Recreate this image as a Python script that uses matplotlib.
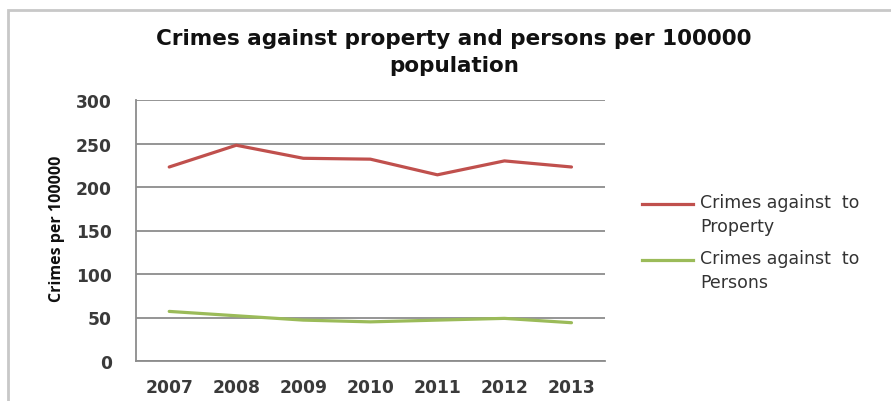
import matplotlib
matplotlib.use("Agg")
import matplotlib.pyplot as plt
from matplotlib.patches import Rectangle
from matplotlib.lines import Line2D

years = ["2007", "2008", "2009", "2010", "2011", "2012", "2013"]
property_crimes = [223, 248, 233, 232, 214, 230, 223]
person_crimes = [57, 52, 47, 45, 47, 49, 44]
yticks = [0, 50, 100, 150, 200, 250, 300]
series_labels = ["Crimes against  to\nProperty", "Crimes against  to\nPersons"]
series_colors = ["#C0504D", "#9BBB59"]

plt.rcParams['font.family'] = ['DejaVu Sans']

fig = plt.figure(figsize=(8.91, 4.02), dpi=100)
W, H = 891, 402
ax = fig.add_axes([135.7 / W, 1 - 362 / H, (605 - 135.7) / W, (362 - 101) / H])

x = list(range(len(years)))
for vals, lab, col in zip([property_crimes, person_crimes], series_labels, series_colors):
    ax.plot(x, vals, color=col, lw=2.3, label=lab, solid_capstyle='round')

ax.set_xlim(-0.5, len(years) - 0.5)
ax.set_ylim(0, 300)
ax.set_yticks(yticks)
ax.set_xticks(x)
ax.set_xticklabels(years)
ax.tick_params(axis='both', length=0, labelsize=12.3, labelcolor='#3a3a3a')
for lab in ax.get_xticklabels() + ax.get_yticklabels():
    lab.set_fontweight('bold')
ax.tick_params(axis='y', pad=17)
ax.tick_params(axis='x', pad=12)
ax.grid(axis='y', color='#8c8c8c', lw=1.3)
ax.set_axisbelow(True)
for s in ['top', 'right']:
    ax.spines[s].set_visible(False)
for s in ['left', 'bottom']:
    ax.spines[s].set_color('#8c8c8c')
    ax.spines[s].set_linewidth(1.3)

fig.text(57 / W, 1 - 229 / H, 'Crimes per 100000', rotation=90, ha='center', va='center',
         fontsize=11.5, fontweight='bold', color='#111111',
         family=['Open Sans', 'DejaVu Sans'])

fig.text(454 / W, 1 - 52.5 / H, 'Crimes against property and persons per 100000\npopulation',
         ha='center', va='center', fontsize=15.5, fontweight='bold', color='#111111',
         linespacing=1.45)

# legend (Excel style: marker aligned with first text line)
leg_y = [205, 261]
for ly, lab, col in zip(leg_y, series_labels, series_colors):
    fig.add_artist(Line2D([642 / W, 693 / W], [1 - ly / H, 1 - ly / H], color=col, lw=2.3,
                          transform=fig.transFigure))
    fig.text(700 / W, 1 - (ly - 10.5) / H, lab, ha='left', va='top', fontsize=12.5,
             color='#333333', linespacing=1.38)

fig.patches.append(Rectangle((8 / W, -0.1), 1.2, 1 - 11 / H + 0.1, transform=fig.transFigure,
                             fill=False, edgecolor='#c8c8c8', lw=2))

fig.savefig('out.png', dpi=100)
